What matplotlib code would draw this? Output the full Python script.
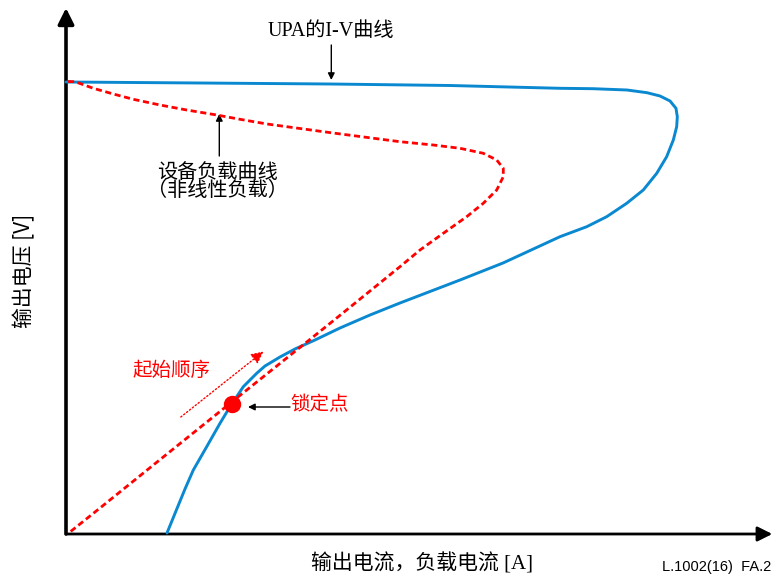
import numpy as np
import matplotlib.pyplot as plt

# -----------------------------
# DATA (arbitrary units: current x, voltage y)
# -----------------------------

# UPA I-V curve (blue), traced from top-left, around the knee, down to the x axis
upa_i = [0.0, 19.14, 37.71, 54.86, 70.57, 75.29, 80.14, 83.0, 84.86, 86.29,
         87.14, 87.33, 87.24, 86.76, 85.81, 84.39, 82.47, 80.1, 77.24, 74.39,
         70.57, 62.43, 56.29, 47.71, 43.43, 39.14, 35.57, 32.71, 30.57, 28.43,
         27.24, 25.33, 23.43, 22.0, 20.1, 18.19, 17.0, 15.71, 14.43]
upa_v = [90.4, 90.2, 90.0, 89.7, 89.14, 89.06, 88.8, 88.26, 87.6, 86.6,
         85.14, 83.46, 81.46, 78.8, 75.46, 72.14, 68.8, 66.14, 63.46, 61.46,
         59.46, 54.2, 50.8, 46.2, 43.8, 41.2, 38.8, 37.0, 35.4, 33.6,
         32.14, 29.46, 25.46, 22.14, 17.46, 12.8, 9.0, 4.6, 0.2]

# equipment load curve (red dashed, non-linear load)
load_i = [0.29, 1.29, 3.9, 6.76, 9.61, 13.43, 17.24, 21.53, 24.86, 28.71,
          38.14, 47.71, 52.47, 56.29, 59.61, 61.53, 62.47, 62.47, 61.53, 59.61,
          57.24, 53.9, 50.57, 47.71, 38.14, 23.86, 14.43, 4.86, 0.57]
load_v = [90.5, 90.46, 89.14, 88.0, 86.94, 85.8, 84.8, 83.8, 82.94, 82.0,
          80.2, 78.46, 77.8, 77.14, 76.14, 74.8, 73.14, 71.46, 68.8, 66.14,
          63.46, 60.14, 56.8, 53.46, 42.6, 26.6, 16.0, 5.2, 0.4]

lock_point = (23.7, 26.0)

blue = '#0a88d0'
red = '#ff0000'
cjk = ['Liberation Serif', 'Noto Sans CJK SC']
sans = ['Noto Sans CJK SC', 'DejaVu Sans']

# -----------------------------
# FIGURE
# -----------------------------
fig = plt.figure(figsize=(7.72, 5.75), dpi=100)
ax = fig.add_axes([0, 0, 1, 1])
ax.set_xlim(-66 / 7, 706 / 7)
ax.set_ylim(-41 / 5, 534 / 5)
ax.axis('off')

# axes with arrow heads
ax.annotate('', xy=(100.9, 0), xytext=(0, 0),
            arrowprops=dict(arrowstyle='-|>', color='k', lw=2.0,
                            mutation_scale=22, shrinkA=0, shrinkB=0))
ax.annotate('', xy=(0, 105.2), xytext=(0, 0),
            arrowprops=dict(arrowstyle='-|>', color='k', lw=2.6,
                            mutation_scale=24, shrinkA=0, shrinkB=0))

# curves
ax.plot(upa_i, upa_v, color=blue, lw=2.1, solid_joinstyle='round',
        solid_capstyle='round', zorder=3)
ax.plot(load_i, load_v, color=red, lw=2.0, ls=(0, (2.2, 1.3)), zorder=4)
ax.plot(*lock_point, 'o', color=red, ms=11.5, zorder=5)

# labels on the curves
ax.text(37.9, 100.4, 'UPA的I-V曲线', family=cjk, fontsize=14.5,
        ha='center', va='center')
ax.annotate('', xy=(37.9, 90.8), xytext=(37.9, 97.8),
            arrowprops=dict(arrowstyle='-|>', color='k', lw=1.0,
                            mutation_scale=10, shrinkA=0, shrinkB=0))

ax.text(21.7, 72.4, '设备负载曲线', family=sans, fontsize=14.5,
        ha='center', va='center')
ax.text(21.7, 68.6, '（非线性负载）', family=sans, fontsize=14.5,
        ha='center', va='center')
ax.annotate('', xy=(21.9, 84.0), xytext=(21.9, 75.6),
            arrowprops=dict(arrowstyle='-|>', color='k', lw=1.0,
                            mutation_scale=10, shrinkA=0, shrinkB=0))

ax.text(32.0, 25.8, '锁定点', family=sans, fontsize=14, color=red,
        ha='left', va='center')
ax.annotate('', xy=(26.0, 25.4), xytext=(32.0, 25.4),
            arrowprops=dict(arrowstyle='-|>', color='k', lw=1.0,
                            mutation_scale=10, shrinkA=0, shrinkB=0))

ax.text(15.1, 32.8, '起始顺序', family=sans, fontsize=14, color=red,
        ha='center', va='center')
ax.annotate('', xy=(28.2, 36.5), xytext=(16.4, 23.4),
            arrowprops=dict(arrowstyle='-|>', color=red, lw=1.0, ls=':',
                            mutation_scale=18, shrinkA=0, shrinkB=0))

# axis titles
ax.text(-5.9, 52.6, '输出电压 [V]', family=sans, fontsize=15,
        rotation=90, ha='center', va='center')
ax.text(50.9, -6.0, '输出电流，负载电流 [A]', family=cjk, fontsize=15,
        ha='center', va='center')
ax.text(100.8, -6.6, 'L.1002(16)  FA.2', family=['Liberation Sans'],
        fontsize=10.5, ha='right', va='center')

fig.savefig('out.png', dpi=100)
